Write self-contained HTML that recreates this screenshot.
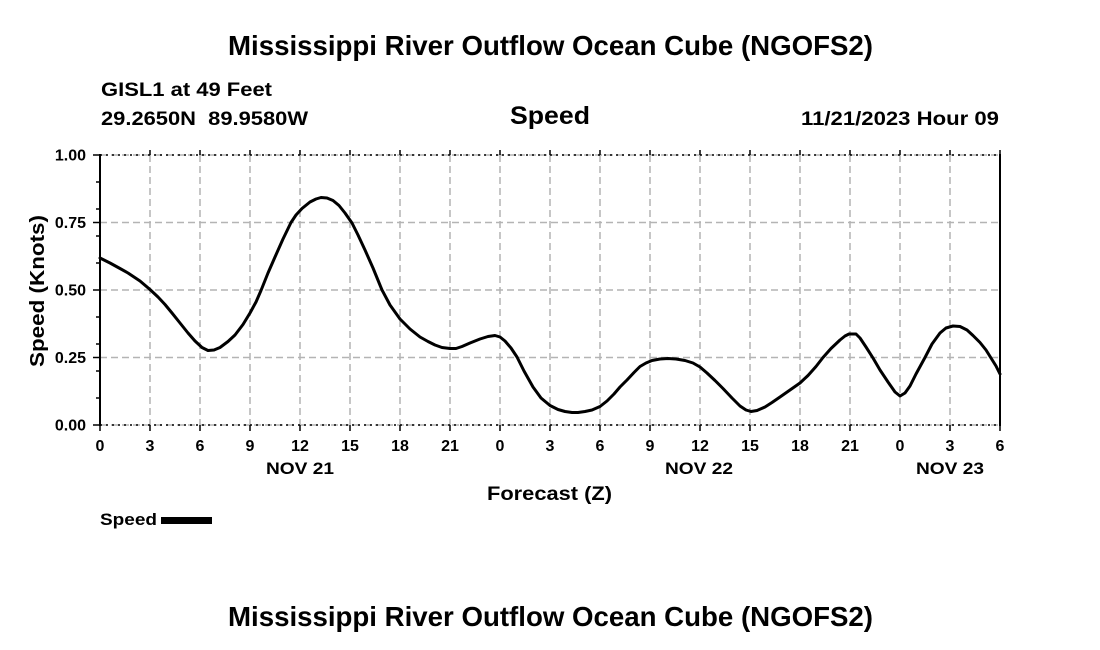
<!DOCTYPE html>
<html><head><meta charset="utf-8"><style>
html,body{margin:0;padding:0;background:#fff;}
svg{display:block;}
text{font-family:"Liberation Sans",Arial,sans-serif;font-weight:bold;fill:#000;}
</style></head><body>
<svg width="1100" height="650" viewBox="0 0 1100 650" xmlns="http://www.w3.org/2000/svg">
<rect width="1100" height="650" fill="#fff"/>
<!-- titles -->
<text x="228" y="55" font-size="28" textLength="645" lengthAdjust="spacingAndGlyphs">Mississippi River Outflow Ocean Cube (NGOFS2)</text>
<text x="101" y="96" font-size="19" textLength="171" lengthAdjust="spacingAndGlyphs">GISL1 at 49 Feet</text>
<text x="101" y="125" font-size="19" textLength="207" lengthAdjust="spacingAndGlyphs">29.2650N&#160; 89.9580W</text>
<text x="510" y="124" font-size="25" textLength="80" lengthAdjust="spacingAndGlyphs">Speed</text>
<text x="801" y="125" font-size="19" textLength="198" lengthAdjust="spacingAndGlyphs">11/21/2023 Hour 09</text>

<!-- grid -->
<g stroke="#b4b4b4" stroke-width="1.5" stroke-dasharray="7 4" fill="none">
<line x1="100" y1="155" x2="1000" y2="155"/>
<line x1="100" y1="222.5" x2="1000" y2="222.5"/>
<line x1="100" y1="290" x2="1000" y2="290"/>
<line x1="100" y1="357.5" x2="1000" y2="357.5"/>
<line x1="100" y1="425" x2="1000" y2="425"/>
<line x1="150" y1="155" x2="150" y2="425"/>
<line x1="200" y1="155" x2="200" y2="425"/>
<line x1="250" y1="155" x2="250" y2="425"/>
<line x1="300" y1="155" x2="300" y2="425"/>
<line x1="350" y1="155" x2="350" y2="425"/>
<line x1="400" y1="155" x2="400" y2="425"/>
<line x1="450" y1="155" x2="450" y2="425"/>
<line x1="500" y1="155" x2="500" y2="425"/>
<line x1="550" y1="155" x2="550" y2="425"/>
<line x1="600" y1="155" x2="600" y2="425"/>
<line x1="650" y1="155" x2="650" y2="425"/>
<line x1="700" y1="155" x2="700" y2="425"/>
<line x1="750" y1="155" x2="750" y2="425"/>
<line x1="800" y1="155" x2="800" y2="425"/>
<line x1="850" y1="155" x2="850" y2="425"/>
<line x1="900" y1="155" x2="900" y2="425"/>
<line x1="950" y1="155" x2="950" y2="425"/>
</g>
<!-- dotted top/bottom borders -->
<g stroke="#000" stroke-width="1.6" stroke-dasharray="2 4">
<line x1="100" y1="155" x2="1000" y2="155"/>
<line x1="100" y1="425" x2="1000" y2="425"/>
</g>
<!-- solid left/right axes -->
<g stroke="#000" stroke-width="2">
<line x1="100" y1="154" x2="100" y2="426"/>
<line x1="1000" y1="154" x2="1000" y2="426"/>
</g>
<!-- ticks -->
<g stroke="#000" stroke-width="1.5">
<line x1="93" y1="155" x2="100" y2="155"/>
<line x1="93" y1="222.5" x2="100" y2="222.5"/>
<line x1="93" y1="290" x2="100" y2="290"/>
<line x1="93" y1="357.5" x2="100" y2="357.5"/>
<line x1="93" y1="425" x2="100" y2="425"/>
<line x1="96" y1="182" x2="100" y2="182"/>
<line x1="96" y1="209" x2="100" y2="209"/>
<line x1="96" y1="236" x2="100" y2="236"/>
<line x1="96" y1="263" x2="100" y2="263"/>
<line x1="96" y1="317" x2="100" y2="317"/>
<line x1="96" y1="344" x2="100" y2="344"/>
<line x1="96" y1="371" x2="100" y2="371"/>
<line x1="96" y1="398" x2="100" y2="398"/>
</g>
<g stroke="#000" stroke-width="1.5">
<path d="M150 150V155M200 150V155M250 150V155M300 150V155M350 150V155M400 150V155M450 150V155M500 150V155M550 150V155M600 150V155M650 150V155M700 150V155M750 150V155M800 150V155M850 150V155M900 150V155M950 150V155M1000 150V155"/>
<path d="M100 425V431M150 425V431M200 425V431M250 425V431M300 425V431M350 425V431M400 425V431M450 425V431M500 425V431M550 425V431M600 425V431M650 425V431M700 425V431M750 425V431M800 425V431M850 425V431M900 425V431M950 425V431M1000 425V431"/>
</g>

<!-- y tick labels -->
<g font-size="16" text-anchor="end">
<text x="86" y="160.5">1.00</text>
<text x="86" y="228">0.75</text>
<text x="86" y="295.5">0.50</text>
<text x="86" y="363">0.25</text>
<text x="86" y="430.5">0.00</text>
</g>
<text transform="translate(44,291) rotate(-90)" font-size="20" text-anchor="middle" textLength="152" lengthAdjust="spacingAndGlyphs">Speed (Knots)</text>

<!-- x tick labels -->
<g font-size="16" text-anchor="middle">
<text x="100" y="451">0</text>
<text x="150" y="451">3</text>
<text x="200" y="451">6</text>
<text x="250" y="451">9</text>
<text x="300" y="451">12</text>
<text x="350" y="451">15</text>
<text x="400" y="451">18</text>
<text x="450" y="451">21</text>
<text x="500" y="451">0</text>
<text x="550" y="451">3</text>
<text x="600" y="451">6</text>
<text x="650" y="451">9</text>
<text x="700" y="451">12</text>
<text x="750" y="451">15</text>
<text x="800" y="451">18</text>
<text x="850" y="451">21</text>
<text x="900" y="451">0</text>
<text x="950" y="451">3</text>
<text x="1000" y="451">6</text>
</g>
<text x="266" y="474" font-size="17" textLength="68" lengthAdjust="spacingAndGlyphs">NOV 21</text>
<text x="665" y="474" font-size="17" textLength="68" lengthAdjust="spacingAndGlyphs">NOV 22</text>
<text x="916" y="474" font-size="17" textLength="68" lengthAdjust="spacingAndGlyphs">NOV 23</text>
<text x="487" y="500" font-size="19" textLength="125" lengthAdjust="spacingAndGlyphs">Forecast (Z)</text>

<!-- series -->
<polyline fill="none" stroke="#000" stroke-width="3" stroke-linejoin="round" stroke-linecap="round" points="
100,258 110,263 120,268.5 128,273 140,281 150,289.5 158,297 165,304.5 172,313 180,323 188,333 195,341 202,347.5 208,350.5 214,350 220,347.5 228,341.5 235,335 243,324.5 250,313 256,302 261,290.5 268,273 275,257 283,239 291,222.5 296,215 302,208.5 310,202 316,199 321,197.5 327,198 333,200.5 339,205.5 345,213 352,223 358,235 365,250 373,268 382,290 390,305 400,319 410,329 420,337 428,341.5 435,345 442,347.5 450,348.5 456,348.5 462,346.5 470,343 480,339 488,336.5 495,335.5 500,337 505,341 511,348 517,357 524,371 533,387 541,398 550,405.5 558,409.5 565,411.5 572,412.5 578,412.5 585,411.5 592,410 600,406.5 607,401 614,394 620,387 627,380 634,372.5 640,366.5 646,363 652,360.5 660,359 668,358.5 676,359 685,360.5 693,363 700,367 707,373 715,380.5 723,388.5 732,398 740,406 746,410 751,411.5 757,410.5 765,407 772,402.5 780,397 790,390 800,383 808,375.5 816,366.5 823,357.5 831,348.5 840,340 845,336 849,334 856,334 860,338 866,347 873,358 880,370 888,382 895,392 900,396 905,393 910,386 916,374 925,357.5 932,344 940,333 946,328 953,326 960,326.5 967,330 973,335.5 980,342.5 986,350 991,358 996,366 1000,374"/>

<!-- legend -->
<text x="100" y="525" font-size="17" textLength="57" lengthAdjust="spacingAndGlyphs">Speed</text>
<rect x="161" y="517" width="51" height="7" fill="#000"/>

<!-- bottom title -->
<text x="228" y="626" font-size="28" textLength="645" lengthAdjust="spacingAndGlyphs">Mississippi River Outflow Ocean Cube (NGOFS2)</text>
</svg>
</body></html>
